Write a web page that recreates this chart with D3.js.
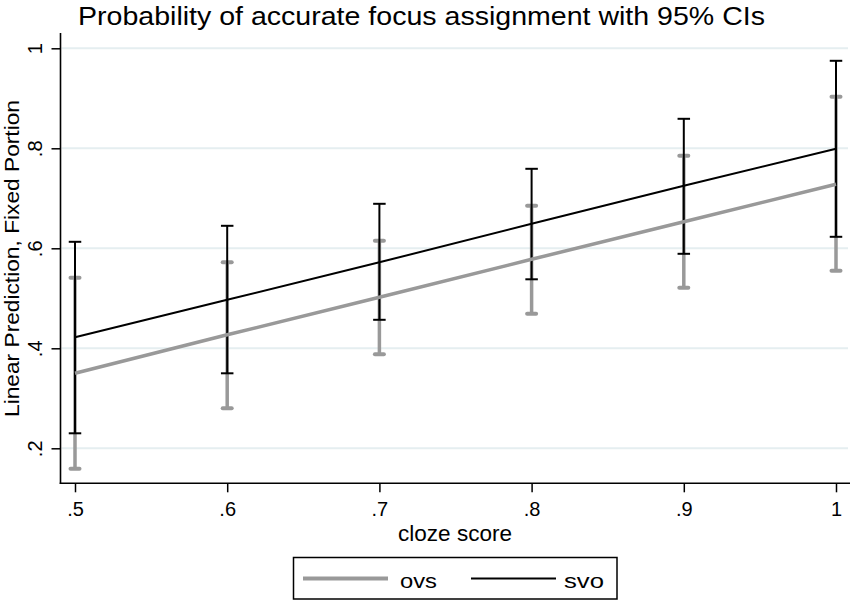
<!DOCTYPE html>
<html>
<head>
<meta charset="utf-8">
<script src="https://cdn.jsdelivr.net/npm/d3@7"></script>
<style>
  html, body { margin: 0; padding: 0; background: #fff; }
  svg { display: block; font-family: "Liberation Sans", Arial, Helvetica, sans-serif; }
</style>
</head>
<body>
<svg id="chart" width="854" height="600"></svg>
<script>
// ---- data ----
const cloze = [0.5, 0.6, 0.7, 0.8, 0.9, 1.0];
const ovsFit = [0.350, 0.427, 0.502, 0.578, 0.653, 0.728];
const ovsLo  = [0.159, 0.280, 0.388, 0.469, 0.521, 0.555];
const ovsHi  = [0.541, 0.572, 0.615, 0.685, 0.785, 0.903];
const svoFit = [0.422, 0.497, 0.572, 0.649, 0.725, 0.799];
const svoLo  = [0.230, 0.350, 0.457, 0.538, 0.589, 0.623];
const svoHi  = [0.613, 0.645, 0.689, 0.759, 0.859, 0.975];
const xTicks = [0.5, 0.6, 0.7, 0.8, 0.9, 1.0];
const xTickLabels = [".5", ".6", ".7", ".8", ".9", "1"];
const yTicks = [0.2, 0.4, 0.6, 0.8, 1.0];
const yTickLabels = [".2", ".4", ".6", ".8", "1"];
const seriesNames = ["ovs", "svo"];

const GRAY = "#999999";
const BLACK = "#000000";

const svg = d3.select("#chart");
svg.append("rect").attr("width", 854).attr("height", 600).attr("fill", "#fff");

const x = d3.scaleLinear().domain([0.5, 1.0]).range([75, 836]);
const y = d3.scaleLinear().domain([0.2, 1.0]).range([448.3, 48.3]);

const axisLeftX = 60.5, axisBottomY = 483.3;

// gridlines
svg.append("g").selectAll("line").data(yTicks).join("line")
  .attr("x1", axisLeftX + 1).attr("x2", 848)
  .attr("y1", d => y(d)).attr("y2", d => y(d))
  .attr("stroke", "#e5eef0").attr("stroke-width", 2);

// y axis
const yAxis = d3.axisLeft(y).tickValues(yTicks).tickSize(9).tickPadding(0)
  .tickFormat((d, i) => yTickLabels[i]);
const gy = svg.append("g").attr("transform", `translate(${axisLeftX},0)`).call(yAxis);
gy.select(".domain").remove();
gy.selectAll(".tick line").attr("stroke", BLACK).attr("stroke-width", 1.5);
gy.selectAll(".tick text")
  .attr("x", null).attr("dy", null)
  .attr("transform", "translate(-18.5,0) rotate(-90)")
  .attr("text-anchor", "middle")
  .attr("fill", BLACK)
  .style("font-size", "20px")
  .style("font-family", "'Liberation Sans', Arial, Helvetica, sans-serif");
svg.append("line").attr("x1", axisLeftX).attr("x2", axisLeftX)
  .attr("y1", 33).attr("y2", axisBottomY + 0.8)
  .attr("stroke", BLACK).attr("stroke-width", 1.6);

// x axis
const xAxis = d3.axisBottom(x).tickValues(xTicks).tickSize(9).tickPadding(0)
  .tickFormat((d, i) => xTickLabels[i]);
const gx = svg.append("g").attr("transform", `translate(0,${axisBottomY})`).call(xAxis);
gx.select(".domain").remove();
gx.selectAll(".tick line").attr("stroke", BLACK).attr("stroke-width", 1.5);
gx.selectAll(".tick text")
  .attr("y", 32.5).attr("dy", null)
  .attr("fill", BLACK)
  .style("font-size", "20px")
  .style("font-family", "'Liberation Sans', Arial, Helvetica, sans-serif");
svg.append("line").attr("x1", axisLeftX - 0.8).attr("x2", 850)
  .attr("y1", axisBottomY).attr("y2", axisBottomY)
  .attr("stroke", BLACK).attr("stroke-width", 1.6);

// error bars
function drawCI(lo, hi, color, width, capW, capStroke, linecap) {
  const g = svg.append("g");
  const idx = d3.range(cloze.length);
  g.selectAll("line.v").data(idx).join("line").attr("class", "v")
    .attr("x1", i => x(cloze[i])).attr("x2", i => x(cloze[i]))
    .attr("y1", i => y(lo[i])).attr("y2", i => y(hi[i]))
    .attr("stroke", color).attr("stroke-width", width);
  [lo, hi].forEach(arr => {
    g.append("g").selectAll("line").data(idx).join("line")
      .attr("x1", i => x(cloze[i]) - capW / 2).attr("x2", i => x(cloze[i]) + capW / 2)
      .attr("y1", i => y(arr[i])).attr("y2", i => y(arr[i]))
      .attr("stroke", color).attr("stroke-width", capStroke)
      .attr("stroke-linecap", linecap);
  });
}
drawCI(ovsLo, ovsHi, GRAY, 3.5, 9, 4, "round");
drawCI(svoLo, svoHi, BLACK, 2, 12.5, 2, "butt");

// fitted lines
const line = d3.line().x((d, i) => x(cloze[i])).y(d => y(d));
svg.append("path").datum(ovsFit).attr("d", line)
  .attr("fill", "none").attr("stroke", GRAY).attr("stroke-width", 3.5);
svg.append("path").datum(svoFit).attr("d", line)
  .attr("fill", "none").attr("stroke", BLACK).attr("stroke-width", 2);

// title
svg.append("text").attr("x", 78).attr("y", 24.5)
  .attr("textLength", 687).attr("lengthAdjust", "spacingAndGlyphs")
  .style("font-size", "25px").attr("fill", BLACK)
  .text("Probability of accurate focus assignment with 95% CIs");

// axis titles
svg.append("text").attr("x", 455).attr("y", 540.5)
  .attr("text-anchor", "middle")
  .attr("textLength", 114).attr("lengthAdjust", "spacingAndGlyphs")
  .style("font-size", "21.5px").attr("fill", BLACK)
  .text("cloze score");
svg.append("text").attr("transform", "translate(18.5,258.5) rotate(-90)")
  .attr("text-anchor", "middle")
  .attr("textLength", 317).attr("lengthAdjust", "spacingAndGlyphs")
  .style("font-size", "20.5px").attr("fill", BLACK)
  .text("Linear Prediction, Fixed Portion");

// legend
const lg = svg.append("g");
lg.append("rect").attr("x", 293.5).attr("y", 557.5).attr("width", 323.5).attr("height", 41.5)
  .attr("fill", "#fff").attr("stroke", BLACK).attr("stroke-width", 1.5);
const legendItems = [
  { name: seriesNames[0], color: GRAY, w: 4, x1: 303, x2: 388, tx: 400, tw: 37 },
  { name: seriesNames[1], color: BLACK, w: 2, x1: 471, x2: 556, tx: 564, tw: 40 }
];
legendItems.forEach(it => {
  lg.append("line").attr("x1", it.x1).attr("x2", it.x2).attr("y1", 578.5).attr("y2", 578.5)
    .attr("stroke", it.color).attr("stroke-width", it.w);
  lg.append("text").attr("x", it.tx).attr("y", 588)
    .attr("textLength", it.tw).attr("lengthAdjust", "spacingAndGlyphs")
    .style("font-size", "21px").attr("fill", BLACK).text(it.name);
});
</script>
</body>
</html>
